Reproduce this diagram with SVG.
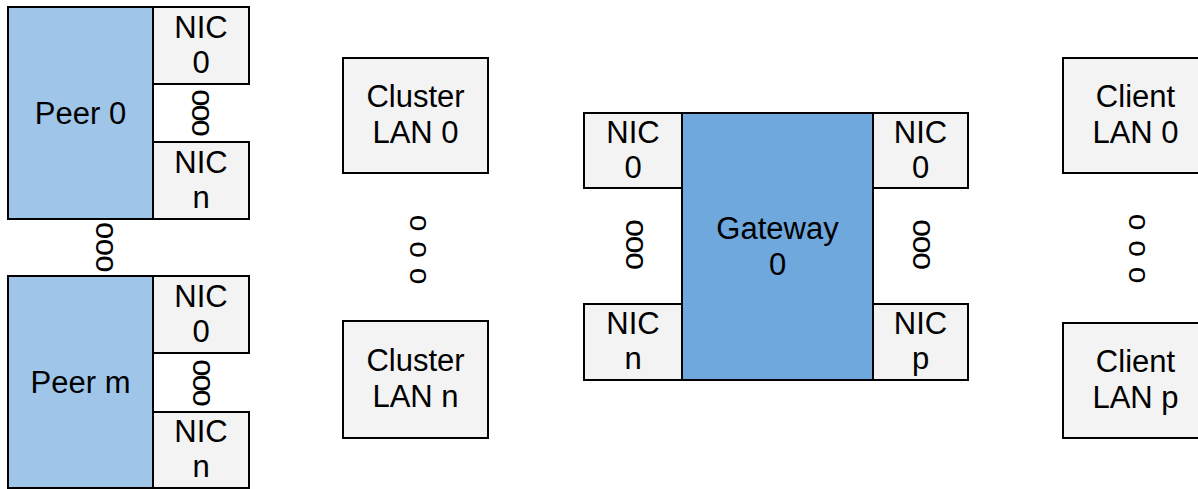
<svg xmlns="http://www.w3.org/2000/svg" width="1198" height="489" viewBox="0 0 1198 489">
<style>
text{font-family:"Liberation Sans",Arial,sans-serif;font-size:31px;fill:#000;text-anchor:middle}
.peer{fill:#9fc5e8;stroke:#000;stroke-width:2}
.gw{fill:#6fa8dc;stroke:#000;stroke-width:2}
.box{fill:#f3f3f3;stroke:#000;stroke-width:2}
.dn{font-size:31px;letter-spacing:-2px}
.db{font-size:31px;letter-spacing:-0.5px}
.dg{font-size:32px;letter-spacing:-1.3px}
.dl{font-size:30px;letter-spacing:0.75px}
</style>
<rect width="1198" height="489" fill="#fff"/>
<g id="peer0">
<rect class="peer" x="8" y="7" width="145" height="212"/>
<text x="80.5" y="124">Peer 0</text>
</g>
<g id="peer0-nic0">
<rect class="box" x="153" y="7" width="96" height="77"/>
<text x="201" y="38">NIC</text><text x="201" y="73">0</text>
</g>
<g id="peer0-nicn">
<rect class="box" x="153" y="142" width="96" height="77"/>
<text x="201" y="173">NIC</text><text x="201" y="208">n</text>
</g>
<text class="dn" transform="translate(200,112) rotate(90)" y="8">ooo</text>
<text class="db" transform="translate(104,247) rotate(90)" y="8">ooo</text>
<g id="peerm">
<rect class="peer" x="8" y="276" width="145" height="212"/>
<text x="80.5" y="393">Peer m</text>
</g>
<g id="peerm-nic0">
<rect class="box" x="153" y="276" width="96" height="77"/>
<text x="201" y="307">NIC</text><text x="201" y="342">0</text>
</g>
<g id="peerm-nicn">
<rect class="box" x="153" y="412" width="96" height="76"/>
<text x="201" y="442">NIC</text><text x="201" y="477">n</text>
</g>
<text class="dn" transform="translate(201,382) rotate(90)" y="8">ooo</text>
<g id="cluster-lan0">
<rect class="box" x="343" y="58" width="145" height="115"/>
<text x="415.5" y="107">Cluster</text><text x="415.5" y="143">LAN 0</text>
</g>
<g id="cluster-lann">
<rect class="box" x="343" y="321" width="145" height="117"/>
<text x="415.5" y="371">Cluster</text><text x="415.5" y="407">LAN n</text>
</g>
<text class="dl" transform="translate(418,250) rotate(90)" y="7.8">o o o</text>
<g id="gateway0">
<rect class="gw" x="682" y="113" width="191" height="267"/>
<text x="777.5" y="239">Gateway</text><text x="777.5" y="275">0</text>
</g>
<g id="gw-nic0-left">
<rect class="box" x="584" y="113" width="98" height="75"/>
<text x="633" y="143">NIC</text><text x="633" y="178">0</text>
</g>
<g id="gw-nicn-left">
<rect class="box" x="584" y="304" width="98" height="76"/>
<text x="633" y="334">NIC</text><text x="633" y="369">n</text>
</g>
<g id="gw-nic0-right">
<rect class="box" x="873" y="113" width="95" height="75"/>
<text x="920.5" y="143">NIC</text><text x="920.5" y="178">0</text>
</g>
<g id="gw-nicp-right">
<rect class="box" x="873" y="304" width="95" height="76"/>
<text x="920.5" y="334">NIC</text><text x="920.5" y="369">p</text>
</g>
<text class="dg" transform="translate(634,244) rotate(90)" y="8.3">ooo</text>
<text class="dg" transform="translate(921,244) rotate(90)" y="8.3">ooo</text>
<g id="client-lan0">
<rect class="box" x="1063" y="58" width="145" height="115"/>
<text x="1135.5" y="107">Client</text><text x="1135.5" y="143">LAN 0</text>
</g>
<g id="client-lanp">
<rect class="box" x="1063" y="323" width="145" height="115"/>
<text x="1135.5" y="372">Client</text><text x="1135.5" y="408">LAN p</text>
</g>
<text class="dl" transform="translate(1137,249) rotate(90)" y="7.8">o o o</text>
</svg>
